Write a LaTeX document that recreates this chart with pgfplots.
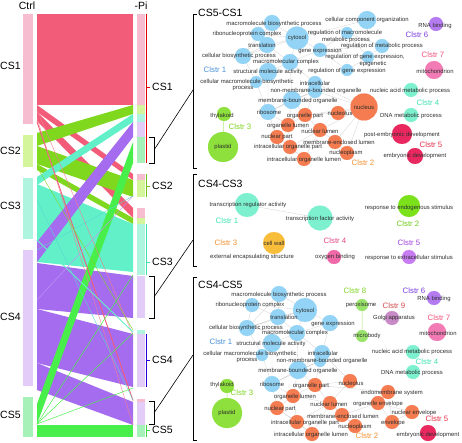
\documentclass[border=0pt]{standalone}
\usepackage{pgfplots}
\pgfplotsset{compat=1.18}
\usepackage{fontspec}
\setmainfont{Liberation Sans}
\definecolor{b1}{HTML}{F6BDD0}
\definecolor{b2}{HTML}{D4F59C}
\definecolor{b3}{HTML}{AEF4DE}
\definecolor{b4}{HTML}{E3CCF7}
\definecolor{b5}{HTML}{A6F1B8}
\definecolor{f1}{HTML}{F25C78}
\definecolor{f2}{HTML}{80D81E}
\definecolor{f3}{HTML}{62F0C8}
\definecolor{f4}{HTML}{A66CF0}
\definecolor{f5}{HTML}{48EE4A}
\definecolor{nblue}{HTML}{93D4F6}
\definecolor{norange}{HTML}{F47C50}
\definecolor{ngreen}{HTML}{8EE03C}
\definecolor{naqua}{HTML}{7DF0CF}
\definecolor{npurple}{HTML}{B57CF2}
\definecolor{npink}{HTML}{F27BB5}
\definecolor{ncrim}{HTML}{E8285E}
\definecolor{nyel}{HTML}{F8BD3A}
\definecolor{noxy}{HTML}{F06AAA}
\definecolor{nendo}{HTML}{7AE11A}
\definecolor{nextra}{HTML}{C77CF2}
\definecolor{nperox}{HTML}{99E36A}
\definecolor{ngolgi}{HTML}{C98BC8}
\definecolor{tblue}{HTML}{4A90D9}
\definecolor{torange}{HTML}{F09030}
\definecolor{tgreen}{HTML}{7ED321}
\definecolor{taqua}{HTML}{3FE0B0}
\definecolor{tpurple}{HTML}{7A3BE0}
\definecolor{tpink}{HTML}{F0507A}
\definecolor{tred}{HTML}{E8304A}
\definecolor{tmag}{HTML}{E84585}
\definecolor{tviolet}{HTML}{A040E0}
\definecolor{tgolgi}{HTML}{D04848}
\tikzset{
  lab/.style={font=\fontsize{5.9}{6.5}\selectfont, text=black!82, inner sep=0pt},
  cl/.style={font=\fontsize{7.8}{9}\selectfont, inner sep=0pt},
  big/.style={font=\fontsize{10.5}{12}\selectfont, inner sep=0pt},
}
\pgfplotsset{
  net/.style={scatter, only marks, mark=*,
    mark options={draw=#1, fill=#1, line width=0.1pt},
    scatter/use mapped color={draw=#1,fill=#1},
    visualization depends on={\thisrow{r}\as\nodesz},
    scatter/@pre marker code/.append style={/tikz/mark size=\nodesz}},
  flow/.style={draw=none, fill=#1},
  edge/.style={draw=black!16, line width=0.35pt, unbounded coords=jump, mark=none},
}
\begin{document}
\begin{tikzpicture}
\begin{axis}[width=462pt,height=442pt,scale only axis,
  xmin=0,xmax=462,ymin=0,ymax=442,y dir=reverse,
  axis lines=none, clip=false, set layers=standard]
\path (axis cs:0,0) rectangle (axis cs:462,442);

% ---------- left bars (Ctrl)
\addplot[flow=b1] coordinates {(23,14)(33,14)(33,124)(23,124)} -- cycle;
\addplot[flow=b2] coordinates {(23,135)(33,135)(33,167)(23,167)} -- cycle;
\addplot[flow=b3] coordinates {(23,178)(33,178)(33,239)(23,239)} -- cycle;
\addplot[flow=b4] coordinates {(23,250)(33,250)(33,386)(23,386)} -- cycle;
\addplot[flow=b5] coordinates {(23,397)(33,397)(33,437)(23,437)} -- cycle;

% ---------- flows
\addplot[flow=f1] coordinates {(37,14)(133,14)(133,105)(37,105)} -- cycle;
\addplot[flow=f1] coordinates {(37,105)(133,174)(133,180)(37,112)} -- cycle;
\addplot[flow=f1] coordinates {(37,112)(133,208)(133,218)(37,121)} -- cycle;
\addplot[flow=f2] coordinates {(37,133)(133,105)(133,114)(37,146)} -- cycle;
\addplot[flow=f2] coordinates {(37,146)(133,180)(133,197)(37,164)} -- cycle;
\addplot[flow=f2] coordinates {(37,164)(133,218)(133,224)(37,170)} -- cycle;
\addplot[flow=f3] coordinates {(37,184)(133,224)(133,272)(37,262)} -- cycle;
\addplot[flow=f3] coordinates {(37,177)(133,114)(133,122)(37,185)} -- cycle;
\addplot[flow=f4] coordinates {(37,263)(133,276)(133,318)(37,309)} -- cycle;
\addplot[flow=f4] coordinates {(37,309)(133,334)(133,387)(37,363)} -- cycle;
\addplot[flow=f4] coordinates {(37,363)(133,402)(133,425)(37,390)} -- cycle;
\addplot[flow=f4] coordinates {(37,242)(133,122)(133,137)(37,262)} -- cycle;
\addplot[flow=f5] coordinates {(37,404)(133,142)(133,163)(37,424)} -- cycle;
\addplot[flow=f5] coordinates {(37,425)(133,425)(133,437)(37,437)} -- cycle;
% thin flows
\addplot[f1, line width=0.9pt, mark=none] coordinates {(37,122)(133,400.5)};
\addplot[f1!80, line width=0.4pt, mark=none] coordinates {(37,110)(133,335)};
\addplot[f1!80, line width=0.4pt, mark=none] coordinates {(37,118)(133,425)};
\addplot[f3, line width=0.9pt, mark=none] coordinates {(37,240)(133,332)};
\addplot[f3!90!blue, line width=0.4pt, mark=none] coordinates {(37,200)(133,400)};
\addplot[f3!90!blue, line width=0.4pt, mark=none] coordinates {(37,250)(133,196)};
\addplot[f2, line width=0.4pt, mark=none] coordinates {(37,167)(133,330)};
\addplot[f4!70, line width=0.4pt, mark=none] coordinates {(37,300)(133,196)};
\addplot[f5, line width=0.5pt, mark=none] coordinates {(37,424)(133,388)};
\addplot[f5, line width=0.5pt, mark=none] coordinates {(37,424)(133,333)};
\addplot[f5, line width=0.5pt, mark=none] coordinates {(37,424)(133,275)};

% ---------- right bars (-Pi)
\addplot[flow=b1] coordinates {(137,14)(145,14)(145,105)(137,105)} -- cycle;
\addplot[flow=b2] coordinates {(137,105)(145,105)(145,114)(137,114)} -- cycle;
\addplot[flow=b3] coordinates {(137,114)(145,114)(145,122)(137,122)} -- cycle;
\addplot[flow=b4] coordinates {(137,122)(145,122)(145,137)(137,137)} -- cycle;
\addplot[flow=b5] coordinates {(137,137)(145,137)(145,163)(137,163)} -- cycle;
\addplot[flow=b1] coordinates {(137,174)(145,174)(145,180)(137,180)} -- cycle;
\addplot[flow=b2] coordinates {(137,180)(145,180)(145,197)(137,197)} -- cycle;
\addplot[flow=b1] coordinates {(137,208)(145,208)(145,218)(137,218)} -- cycle;
\addplot[flow=b2] coordinates {(137,218)(145,218)(145,224)(137,224)} -- cycle;
\addplot[flow=b3] coordinates {(137,224)(145,224)(145,275)(137,275)} -- cycle;
\addplot[flow=b4] coordinates {(137,276)(145,276)(145,318)(137,318)} -- cycle;
\addplot[flow=b3] coordinates {(137,330)(145,330)(145,334)(137,334)} -- cycle;
\addplot[flow=b4] coordinates {(137,334)(145,334)(145,387)(137,387)} -- cycle;
\addplot[flow=b1] coordinates {(137,399)(145,399)(145,402)(137,402)} -- cycle;
\addplot[flow=b4] coordinates {(137,402)(145,402)(145,425)(137,425)} -- cycle;
\addplot[flow=b5] coordinates {(137,425)(145,425)(145,437)(137,437)} -- cycle;

% group lines and ticks
\draw[red!90!black, line width=0.7pt] (axis cs:146,14) -- (axis cs:146,163) (axis cs:146,87) -- (axis cs:150,87);
\draw[f2!90!black, line width=0.7pt] (axis cs:146,174) -- (axis cs:146,197) (axis cs:146,186) -- (axis cs:150,186);
\draw[taqua, line width=0.7pt] (axis cs:146,224) -- (axis cs:146,275) (axis cs:146,262) -- (axis cs:150,262);
\draw[blue!70!violet, line width=0.7pt] (axis cs:146,334) -- (axis cs:146,387) (axis cs:146,360) -- (axis cs:150,360);
\draw[f5!90!black, line width=0.7pt] (axis cs:146,425) -- (axis cs:146,437) (axis cs:146,430) -- (axis cs:150,430);

% brackets and connectors
\draw[black, line width=0.6pt] (axis cs:149,137) -- (axis cs:154,137) -- (axis cs:154,163) -- (axis cs:149,163);
\draw[black, line width=0.6pt] (axis cs:154,150) -- (axis cs:193,90);
\draw[black, line width=0.6pt] (axis cs:149,276) -- (axis cs:154,276) -- (axis cs:154,318) -- (axis cs:149,318);
\draw[black, line width=0.6pt] (axis cs:154,297) -- (axis cs:193,240);
\draw[black, line width=0.6pt] (axis cs:149,401) -- (axis cs:154,401) -- (axis cs:154,424) -- (axis cs:149,424);
\draw[black, line width=0.6pt] (axis cs:154,413) -- (axis cs:193,355);
\draw[black, line width=0.6pt] (axis cs:197,14) -- (axis cs:193,14) -- (axis cs:193,168) -- (axis cs:197,168);
\draw[black, line width=0.6pt] (axis cs:197,174) -- (axis cs:193,174) -- (axis cs:193,266) -- (axis cs:197,266);
\draw[black, line width=0.6pt] (axis cs:197,277) -- (axis cs:193,277) -- (axis cs:193,440) -- (axis cs:197,440);

% ---------- network edges
\addplot[edge] coordinates {
(297,38)(272,23)(0,nan) (297,38)(258,34)(0,nan) (297,38)(267,45)(0,nan) (297,38)(320,50)(0,nan)
(297,38)(290,62)(0,nan) (297,38)(243,56)(0,nan) (297,38)(367,20)(0,nan) (272,23)(267,45)(0,nan)
(272,23)(243,56)(0,nan) (258,34)(267,45)(0,nan) (258,34)(243,56)(0,nan) (267,45)(290,62)(0,nan)
(267,45)(243,56)(0,nan) (267,45)(268,72)(0,nan) (320,50)(347,33)(0,nan) (320,50)(382,46)(0,nan)
(320,50)(368,57)(0,nan) (320,50)(347,70)(0,nan) (320,50)(290,62)(0,nan) (347,33)(382,46)(0,nan)
(347,33)(368,57)(0,nan) (382,46)(368,57)(0,nan) (368,57)(347,70)(0,nan) (347,33)(347,70)(0,nan)
(290,62)(268,72)(0,nan) (290,62)(243,56)(0,nan) (290,62)(315,83)(0,nan) (290,62)(292,100)(0,nan)
(268,72)(256,82)(0,nan) (243,56)(256,82)(0,nan) (268,72)(268,112)(0,nan) (256,82)(268,112)(0,nan)
(315,83)(315,91)(0,nan) (315,83)(292,100)(0,nan) (315,91)(292,100)(0,nan) (292,100)(268,112)(0,nan)
(315,91)(268,112)(0,nan) (315,83)(364,107)(0,nan) (315,91)(364,107)(0,nan) (292,100)(305,115)(0,nan)
(315,91)(305,115)(0,nan) (305,115)(288,125)(0,nan) (305,115)(320,130)(0,nan) (305,115)(364,107)(0,nan)
(305,115)(338,113)(0,nan) (338,113)(364,107)(0,nan) (320,130)(364,107)(0,nan) (320,130)(335,142)(0,nan)
(288,125)(277,137)(0,nan) (288,125)(290,147)(0,nan) (277,137)(290,147)(0,nan) (290,147)(304,159)(0,nan)
(304,159)(320,130)(0,nan) (335,142)(347,153)(0,nan) (347,153)(364,107)(0,nan) (335,142)(364,107)(0,nan)
(288,125)(320,130)(0,nan) (290,147)(320,130)(0,nan) (277,137)(304,159)(0,nan) (292,100)(288,125)(0,nan)
(268,112)(288,125)(0,nan) (268,112)(277,137)(0,nan)
(247,205)(320,218)(0,nan)
(305,310)(279,294)(0,nan) (305,310)(252,305)(0,nan) (305,310)(278,317)(0,nan) (305,310)(330,323)(0,nan)
(305,310)(297,333)(0,nan) (305,310)(247,328)(0,nan) (279,294)(278,317)(0,nan) (279,294)(247,328)(0,nan)
(252,305)(278,317)(0,nan) (252,305)(247,328)(0,nan) (278,317)(297,333)(0,nan) (278,317)(247,328)(0,nan)
(278,317)(272,343)(0,nan) (330,323)(297,333)(0,nan) (330,323)(322,353)(0,nan) (297,333)(272,343)(0,nan)
(297,333)(247,328)(0,nan) (297,333)(322,353)(0,nan) (297,333)(298,370)(0,nan) (272,343)(262,355)(0,nan)
(247,328)(262,355)(0,nan) (272,343)(272,384)(0,nan) (262,355)(272,384)(0,nan) (322,353)(320,361)(0,nan)
(322,353)(298,370)(0,nan) (320,361)(298,370)(0,nan) (298,370)(272,384)(0,nan) (320,361)(272,384)(0,nan)
(298,370)(315,385)(0,nan) (320,361)(315,385)(0,nan) (322,353)(350,381)(0,nan) (315,385)(293,396)(0,nan)
(315,385)(330,403)(0,nan) (315,385)(350,381)(0,nan) (330,403)(342,415)(0,nan) (293,396)(277,408)(0,nan)
(293,396)(297,422)(0,nan) (277,408)(297,422)(0,nan) (297,422)(312,434)(0,nan) (312,434)(330,403)(0,nan)
(342,415)(355,426)(0,nan) (293,396)(330,403)(0,nan) (297,422)(330,403)(0,nan) (277,408)(312,434)(0,nan)
(298,370)(293,396)(0,nan) (272,384)(293,396)(0,nan) (272,384)(277,408)(0,nan) (330,403)(378,403)(0,nan)
(378,403)(388,392)(0,nan) (378,403)(412,412)(0,nan) (378,403)(392,422)(0,nan) (412,412)(392,422)(0,nan)
(388,392)(392,422)(0,nan) (342,415)(378,403)(0,nan) (388,392)(315,385)(0,nan) (350,381)(330,403)(0,nan)
(355,426)(330,403)
};
\addplot[ngreen!70, line width=0.5pt, mark=none, unbounded coords=jump] coordinates {
(224,114)(223,147)(0,nan) (227,386)(227,413)(0,nan) (362,305)(362,336)};

% ---------- network nodes
\addplot[net=nblue] table[row sep=\\]{x y r\\
367 20 9\\ 272 23 8\\ 258 34 7\\ 297 38 11.5\\ 267 45 8\\ 347 33 6\\ 320 50 7\\ 382 46 7\\
243 56 8\\ 368 57 6\\ 290 62 8\\ 347 70 6\\ 268 72 9\\ 256 82 6\\ 315 83 7\\ 315 91 7\\ 292 100 9\\ 268 112 8\\
279 294 8\\ 252 305 7\\ 305 310 12\\ 278 317 8\\ 330 323 8\\ 247 328 8\\ 297 333 8\\ 272 343 9\\
262 355 6\\ 322 353 8\\ 320 361 6\\ 298 370 9\\ 272 384 8\\};
\addplot[net=norange] table[row sep=\\]{x y r\\
364 107 13.5\\ 305 115 7\\ 338 113 7\\ 288 125 7\\ 320 130 7\\ 277 137 7\\ 335 142 7\\ 290 147 7\\ 347 153 7\\ 304 159 7\\
315 385 7\\ 350 381 7\\ 293 396 7\\ 330 403 7\\ 378 403 7\\ 388 392 7\\ 277 408 7\\ 342 415 7\\ 412 412 7\\
297 422 7\\ 392 422 7\\ 355 426 7\\ 312 434 7\\};
\addplot[net=ngreen] table[row sep=\\]{x y r\\ 224 114 7\\ 223 147 15\\ 227 386 7\\ 227 413 15\\};
\addplot[net=naqua] table[row sep=\\]{x y r\\ 411 90 7\\ 411 115 7\\ 247 205 12\\ 320 218 12.5\\ 413 352 7\\ 413 372 7\\};
\addplot[net=npurple] table[row sep=\\]{x y r\\ 436 24 7\\ 434 298 7\\};
\addplot[net=npink] table[row sep=\\]{x y r\\ 434 70 9\\ 437 332 9\\};
\addplot[net=ncrim] table[row sep=\\]{x y r\\ 402 134 10\\ 415 156 8\\ 428 433 8\\};
\addplot[net=nyel] table[row sep=\\]{x y r\\ 274 243 11\\};
\addplot[net=noxy] table[row sep=\\]{x y r\\ 334 257 7\\};
\addplot[net=nendo] table[row sep=\\]{x y r\\ 409 206 11\\};
\addplot[net=nextra] table[row sep=\\]{x y r\\ 409 257 7\\};
\addplot[net=nperox] table[row sep=\\]{x y r\\ 362 305 6\\ 362 336 6\\};
\addplot[net=ngolgi] table[row sep=\\]{x y r\\ 392 318 7\\};

\begin{pgfonlayer}{axis foreground}
% Sankey labels
\node[big] at (axis cs:27,6) {Ctrl};
\node[big] at (axis cs:141,6) {-Pi};
\node[big,anchor=west] at (axis cs:0,66) {CS1};
\node[big,anchor=west] at (axis cs:0,151) {CS2};
\node[big,anchor=west] at (axis cs:0,206) {CS3};
\node[big,anchor=west] at (axis cs:0,317) {CS4};
\node[big,anchor=west] at (axis cs:0,415) {CS5};
\node[big,anchor=west] at (axis cs:152,87) {CS1};
\node[big,anchor=west] at (axis cs:152,186) {CS2};
\node[big,anchor=west] at (axis cs:152,262) {CS3};
\node[big,anchor=west] at (axis cs:152,360) {CS4};
\node[big,anchor=west] at (axis cs:152,430) {CS5};
\node[big,anchor=west] at (axis cs:198,13) {CS5-CS1};
\node[big,anchor=west] at (axis cs:198,184) {CS4-CS3};
\node[big,anchor=west] at (axis cs:198,285) {CS4-CS5};

% ---------- panel 1 labels
\node[lab] at (axis cs:367,20) {cellular component organization};
\node[lab] at (axis cs:274,24) {macromolecule biosynthetic process};
\node[lab] at (axis cs:247,34) {ribonucleoprotein complex};
\node[lab] at (axis cs:297,38) {cytosol};
\node[lab] at (axis cs:262,45) {translation};
\node[lab] at (axis cs:320,51) {gene expression};
\node[lab] at (axis cs:345,33) {regulation of macromolecule};
\node[lab] at (axis cs:346,40) {metabolic process};
\node[lab] at (axis cs:382,46) {regulation of metabolic process};
\node[lab] at (axis cs:365,57) {regulation of gene expression,};
\node[lab] at (axis cs:373,64) {epigenetic};
\node[lab] at (axis cs:347,71) {regulation of gene expression};
\node[lab] at (axis cs:239,56) {cellular biosynthetic process};
\node[lab] at (axis cs:286,62) {macromolecular complex};
\node[lab] at (axis cs:268,72) {structural molecule activity};
\node[lab] at (axis cs:247,82) {cellular macromolecule biosynthetic};
\node[lab] at (axis cs:243,89) {process};
\node[lab] at (axis cs:315,83) {intracellular};
\node[lab] at (axis cs:316,91) {non-membrane-bounded organelle};
\node[lab] at (axis cs:298,101) {membrane-bounded organelle};
\node[lab] at (axis cs:269,112) {ribosome};
\node[cl,text=tblue] at (axis cs:215,70) {Clstr 1};
\node[lab] at (axis cs:364,107) {nucleus};
\node[lab] at (axis cs:305,116) {organelle part};
\node[lab] at (axis cs:340,113) {nucleolus};
\node[lab] at (axis cs:288,126) {organelle lumen};
\node[lab] at (axis cs:320,131) {nuclear lumen};
\node[lab] at (axis cs:277,137) {nuclear part};
\node[lab] at (axis cs:339,142) {membrane-enclosed lumen};
\node[lab] at (axis cs:288,147) {intracellular organelle part};
\node[lab] at (axis cs:346,153) {nucleoplasm};
\node[lab] at (axis cs:304,160) {intracellular organelle lumen};
\node[cl,text=torange] at (axis cs:363,163) {Clstr 2};
\node[lab] at (axis cs:222,116) {thylakoid};
\node[cl,text=tgreen] at (axis cs:240,127) {Clstr 3};
\node[lab] at (axis cs:223,147) {plastid};
\node[lab] at (axis cs:410,91) {nucleic acid metabolic process};
\node[cl,text=taqua] at (axis cs:428,103) {Clstr 4};
\node[lab] at (axis cs:411,116) {DNA metabolic process};
\node[lab] at (axis cs:435,26) {RNA binding};
\node[cl,text=tpurple] at (axis cs:417,35) {Clstr 6};
\node[cl,text=tpink] at (axis cs:433,55) {Clstr 7};
\node[lab] at (axis cs:435,71) {mitochondrion};
\node[lab] at (axis cs:402,135) {post-embryonic development};
\node[cl,text=tred] at (axis cs:431,145) {Clstr 5};
\node[lab] at (axis cs:415,156) {embryonic development};

% ---------- panel 2 labels
\node[lab] at (axis cs:248,205) {transcription regulator activity};
\node[lab] at (axis cs:320,219) {transcription factor activity};
\node[cl,text=taqua] at (axis cs:227,221) {Clstr 1};
\node[cl,text=torange] at (axis cs:226,243) {Clstr 3};
\node[lab] at (axis cs:274,243) {cell wall};
\node[lab] at (axis cs:252,257) {external encapsulating structure};
\node[cl,text=tmag] at (axis cs:335,241) {Clstr 4};
\node[lab] at (axis cs:335,257) {oxygen binding};
\node[lab] at (axis cs:409,208) {response to endogenous stimulus};
\node[cl,text=nendo!90!black] at (axis cs:408,224) {Clstr 2};
\node[cl,text=tviolet] at (axis cs:409,243) {Clstr 5};
\node[lab] at (axis cs:409,258) {response to extracellular stimulus};

% ---------- panel 3 labels
\node[lab] at (axis cs:279,295) {macromolecule biosynthetic process};
\node[lab] at (axis cs:250,305) {ribonucleoprotein complex};
\node[lab] at (axis cs:305,311) {cytosol};
\node[lab] at (axis cs:284,317) {translation};
\node[lab] at (axis cs:333,324) {gene expression};
\node[lab] at (axis cs:246,328) {cellular biosynthetic process};
\node[lab] at (axis cs:295,333) {macromolecular complex};
\node[cl,text=tblue] at (axis cs:221,342) {Clstr 1};
\node[lab] at (axis cs:271,344) {structural molecule activity};
\node[lab] at (axis cs:250,354) {cellular macromolecule biosynthetic};
\node[lab] at (axis cs:247,361) {process};
\node[lab] at (axis cs:323,353) {intracellular};
\node[lab] at (axis cs:322,361) {non-membrane-bounded organelle};
\node[lab] at (axis cs:298,371) {membrane-bounded organelle};
\node[lab] at (axis cs:272,384) {ribosome};
\node[lab] at (axis cs:311,386) {organelle part};
\node[lab] at (axis cs:351,383) {nucleolus};
\node[lab] at (axis cs:392,393) {endomembrane system};
\node[lab] at (axis cs:295,397) {organelle lumen};
\node[lab] at (axis cs:329,404) {nuclear lumen};
\node[lab] at (axis cs:378,404) {organelle envelope};
\node[lab] at (axis cs:280,409) {nuclear part};
\node[lab] at (axis cs:414,413) {nuclear envelope};
\node[lab] at (axis cs:343,416) {membrane-enclosed lumen};
\node[lab] at (axis cs:305,423) {intracellular organelle part};
\node[lab] at (axis cs:393,423) {envelope};
\node[lab] at (axis cs:355,427) {nucleoplasm};
\node[lab] at (axis cs:311,435) {intracellular organelle lumen};
\node[cl,text=torange] at (axis cs:367,436) {Clstr 2};
\node[lab] at (axis cs:428,435) {embryonic development};
\node[cl,text=tred] at (axis cs:437,419) {Clstr 5};
\node[lab] at (axis cs:222,385) {thylakoid};
\node[cl,text=tgreen] at (axis cs:242,393) {Clstr 3};
\node[lab] at (axis cs:227,413) {plastid};
\node[cl,text=tgreen] at (axis cs:355,291) {Clstr 8};
\node[lab] at (axis cs:361,305) {peroxisome};
\node[lab] at (axis cs:367,336) {microbody};
\node[cl,text=tgolgi] at (axis cs:394,306) {Clstr 9};
\node[lab] at (axis cs:394,318) {Golgi apparatus};
\node[cl,text=tpurple] at (axis cs:414,291) {Clstr 6};
\node[lab] at (axis cs:434,299) {RNA binding};
\node[cl,text=tpink] at (axis cs:439,318) {Clstr 7};
\node[lab] at (axis cs:438,333) {mitochondrion};
\node[lab] at (axis cs:412,352) {nucleic acid metabolic process};
\node[cl,text=taqua] at (axis cs:427,362) {Clstr 4};
\node[lab] at (axis cs:412,373) {DNA metabolic process};
\end{pgfonlayer}
\end{axis}
\end{tikzpicture}
\end{document}
